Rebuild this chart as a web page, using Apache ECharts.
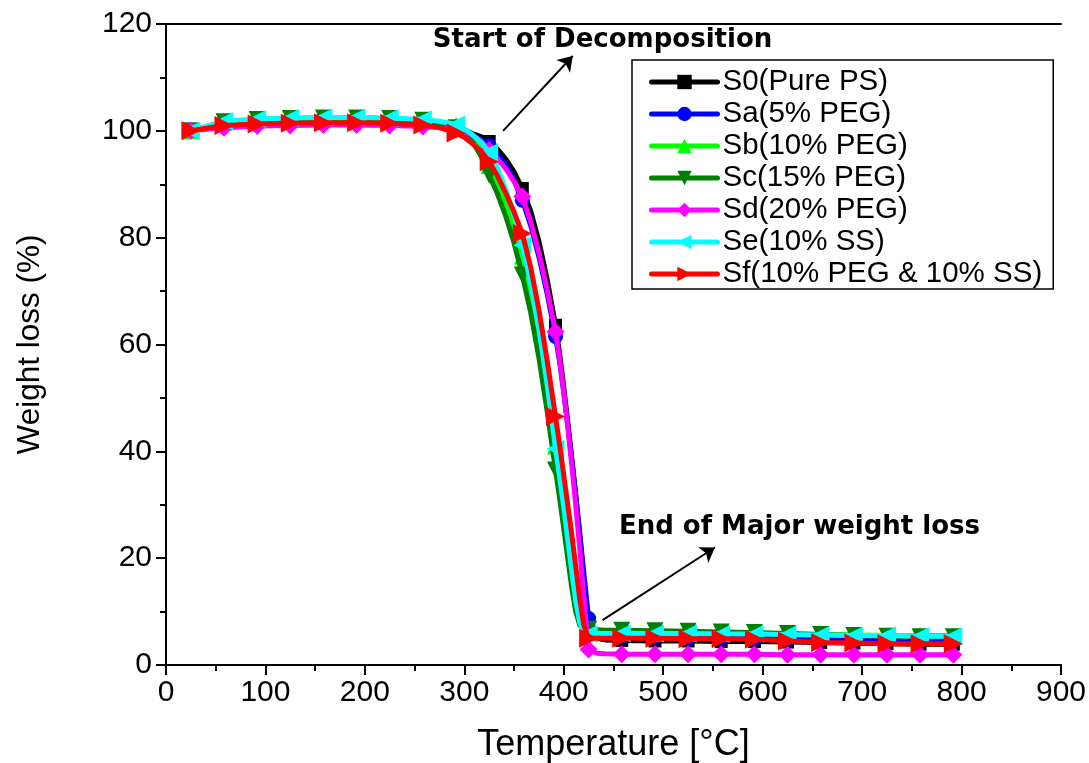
<!DOCTYPE html>
<html>
<head>
<meta charset="utf-8">
<script src="https://cdn.jsdelivr.net/npm/echarts@6/dist/echarts.min.js"></script>
<style>
  html, body { margin: 0; padding: 0; background: #ffffff; }
  #chart { width: 1089px; height: 763px; }
</style>
</head>
<body>
<div id="chart"></div>
<script>
// TGA curves: residual weight (%) against temperature (°C)
const temperature = [
  25, 58.3, 91.7, 125, 158.3, 191.7, 225, 258.3,
  275, 291.7, 300, 308, 316.7, 325, 333.3, 341.7, 350, 358.3,
  366.7, 375, 383.3, 391.7, 396, 400, 404, 408, 412, 416, 420,
  425, 433, 441.7,
  458.3, 491.7, 525, 558.3, 591.7, 625, 658.3, 691.7, 725, 758.3, 791.7];
// readings drawn as line only, without a symbol
const lineOnlyTemps = [275, 300, 308, 316.7, 333.3, 341.7, 350, 366.7, 375, 383.3,
  396, 400, 404, 408, 412, 416, 420, 433, 441.7];

const seriesNames = ['S0(Pure PS)', 'Sa(5% PEG)', 'Sb(10% PEG)', 'Sc(15% PEG)',
  'Sd(20% PEG)', 'Se(10% SS)', 'Sf(10% PEG & 10% SS)'];

const s0 = [
  100.0, 101.2, 101.6, 101.8, 101.9, 101.9, 101.8, 101.5,
  101.2, 100.7, 100.2, 99.5, 98.9, 98.0, 96.6, 94.7, 92.3, 89.2,
  85.0, 79.3, 72.2, 63.6, 58.0, 52.0, 45.5, 38.8, 31.8, 24.5, 16.5,
  7.0, 5.0, 4.7,
  4.6, 4.5, 4.5, 4.4, 4.4, 4.3, 4.2, 4.1, 4.0, 3.9, 3.9];
const sa = [
  100.0, 101.0, 101.4, 101.6, 101.7, 101.7, 101.6, 101.3,
  101.0, 100.4, 99.9, 99.2, 98.4, 97.2, 95.6, 93.6, 90.8, 87.0,
  82.3, 76.4, 69.5, 61.5, 56.5, 51.0, 45.0, 38.5, 31.8, 24.8, 17.5,
  8.7, 5.8, 5.4,
  5.3, 5.2, 5.1, 5.1, 5.0, 4.9, 4.8, 4.8, 4.7, 4.7, 4.7];
const sb = [
  100.0, 101.6, 102.0, 102.2, 102.3, 102.3, 102.2, 101.9,
  101.6, 101.0, 100.1, 98.8, 96.6, 93.5, 90.3, 86.5, 82.0, 76.5,
  70.0, 62.0, 52.5, 41.0, 35.5, 30.0, 24.0, 18.0, 12.5, 8.5, 6.8,
  6.2, 6.1, 6.1,
  6.1, 6.0, 6.0, 5.9, 5.9, 5.8, 5.7, 5.6, 5.5, 5.5, 5.5];
const sc = [
  100.0, 101.7, 102.1, 102.3, 102.4, 102.4, 102.3, 102.0,
  101.6, 100.6, 99.6, 98.0, 95.3, 91.7, 88.2, 84.0, 79.0, 73.0,
  66.0, 57.5, 47.5, 36.5, 31.0, 25.5, 20.0, 14.5, 10.0, 7.5, 6.9,
  6.7, 6.6, 6.5,
  6.5, 6.4, 6.3, 6.2, 6.1, 5.9, 5.7, 5.5, 5.4, 5.3, 5.3];
const sd = [
  100.0, 100.6, 100.9, 101.0, 101.1, 101.1, 101.0, 100.8,
  100.6, 100.2, 99.8, 99.2, 98.1, 96.4, 94.8, 92.9, 90.5, 87.7,
  83.0, 77.2, 70.3, 62.4, 57.0, 51.0, 44.5, 37.5, 30.0, 22.0, 13.0,
  2.9, 2.2, 2.1,
  2.0, 2.0, 2.0, 2.0, 2.0, 1.9, 1.9, 1.9, 1.9, 1.9, 1.9];
const se = [
  100.0, 101.8, 102.2, 102.4, 102.5, 102.5, 102.4, 102.1,
  101.8, 101.2, 100.4, 99.3, 97.9, 96.0, 93.0, 89.0, 84.3, 78.6,
  71.5, 63.0, 52.5, 40.5, 35.0, 29.5, 23.5, 17.5, 12.0, 8.0, 6.3,
  5.8, 5.9, 5.9,
  5.9, 5.9, 5.9, 5.8, 5.8, 5.7, 5.6, 5.5, 5.5, 5.4, 5.4];
const sf = [
  100.0, 101.0, 101.3, 101.4, 101.5, 101.5, 101.4, 101.1,
  100.6, 99.6, 98.8, 97.6, 96.2, 94.2, 91.6, 88.3, 84.8, 80.8,
  74.5, 66.5, 57.0, 46.5, 41.0, 35.5, 30.0, 24.5, 18.5, 12.5, 7.5,
  5.0, 5.0, 5.0,
  5.0, 5.0, 4.9, 4.9, 4.8, 4.5, 4.2, 4.1, 4.0, 4.0, 4.0];

const xTicks = [0, 100, 200, 300, 400, 500, 600, 700, 800, 900];
const yTicks = [0, 20, 40, 60, 80, 100, 120];

const weights = [s0, sa, sb, sc, sd, se, sf];
const colors = ['#000000', '#0000ff', '#00ff00', '#008000', '#ff00ff', '#00ffff', '#ff0000'];
const symbols = ['rect', 'circle', 'triangle', 'triangle', 'diamond', 'triangle', 'triangle'];
const rotations = [0, 0, 0, 180, 0, 90, -90];
const symbolSizes = [13, 15, 17, 17, 18, 18, 19];

const FONT = '"Liberation Sans", Arial, sans-serif';

function buildData(vals) {
  return temperature.map((t, i) =>
    lineOnlyTemps.includes(t) ? { value: [t, vals[i]], symbol: 'none' } : [t, vals[i]]);
}

const series = weights.map((vals, k) => ({
  name: seriesNames[k],
  type: 'line',
  data: buildData(vals),
  smooth: false,
  showAllSymbol: true,
  symbol: symbols[k],
  symbolSize: symbolSizes[k],
  symbolRotate: rotations[k],
  color: colors[k],
  itemStyle: { color: colors[k] },
  lineStyle: { color: colors[k], width: 5, join: 'round', cap: 'round' },
  emphasis: { disabled: true },
  z: 2 + k
}));

// annotation arrows and captions, placed in data coordinates
series[0].markLine = {
  silent: true,
  symbol: ['none', 'arrow'],
  symbolSize: 14,
  label: { show: false },
  lineStyle: { color: '#000000', width: 2, type: 'solid' },
  emphasis: { disabled: true },
  data: [
    [{ coord: [339, 100] }, { coord: [409, 114] }],
    [{ coord: [439, 8.4] }, { coord: [552, 22] }]
  ]
};
series[0].markPoint = {
  silent: true,
  symbol: 'circle',
  symbolSize: 0,
  label: {
    show: true, position: 'inside', formatter: p => p.name,
    color: '#000000', fontWeight: 'bold', fontSize: 26, fontFamily: '"DejaVu Sans", sans-serif'
  },
  data: [
    { name: 'Start of Decomposition', coord: [439, 117] },
    { name: 'End of Major weight loss', coord: [637, 25.8] }
  ]
};

const axisLineStyle = { color: '#000000', width: 2 };

const chart = echarts.init(document.getElementById('chart'), null, { renderer: 'canvas' });
chart.setOption({
  animation: false,
  backgroundColor: '#ffffff',
  grid: { left: 166, right: 28, top: 24, bottom: 98, outerBoundsMode: 'none', containLabel: false },
  legend: {
    orient: 'vertical',
    left: 632, top: 60,
    padding: [7, 11, 0, 17],
    itemGap: 2,
    itemWidth: 66,
    itemHeight: 18,
    borderColor: '#000000',
    borderWidth: 1.5,
    borderRadius: 0,
    backgroundColor: '#ffffff',
    selectedMode: false,
    symbolRotate: 'inherit',
    lineStyle: { width: 5 },
    textStyle: { fontSize: 29.5, fontFamily: FONT, color: '#000000', lineHeight: 30, padding: [0, 0, 0, 0] },
    data: seriesNames
  },
  xAxis: [{
    type: 'value',
    min: xTicks[0], max: xTicks[xTicks.length - 1], interval: 100,
    name: 'Temperature [°C]',
    nameLocation: 'middle',
    nameGap: 62,
    nameTextStyle: { fontSize: 36, fontFamily: FONT, color: '#000000' },
    axisLine: { show: true, onZero: false, lineStyle: axisLineStyle },
    axisTick: { show: true, inside: false, length: 10, lineStyle: axisLineStyle },
    minorTick: { show: true, splitNumber: 2, length: 6, lineStyle: axisLineStyle },
    axisLabel: { fontSize: 30, fontFamily: FONT, color: '#000000', margin: 13, hideOverlap: false },
    splitLine: { show: false },
    minorSplitLine: { show: false }
  }, {
    type: 'value', position: 'top',
    min: xTicks[0], max: xTicks[xTicks.length - 1],
    axisLine: { show: true, onZero: false, lineStyle: axisLineStyle },
    axisTick: { show: false }, axisLabel: { show: false }, splitLine: { show: false }
  }],
  yAxis: {
    type: 'value',
    min: yTicks[0], max: yTicks[yTicks.length - 1], interval: 20,
    name: 'Weight loss (%)',
    nameLocation: 'middle',
    nameGap: 120,
    nameTextStyle: { fontSize: 31.5, fontFamily: FONT, color: '#000000' },
    axisLine: { show: true, onZero: false, lineStyle: axisLineStyle },
    axisTick: { show: true, inside: false, length: 10, lineStyle: axisLineStyle },
    minorTick: { show: true, splitNumber: 2, length: 6, lineStyle: axisLineStyle },
    axisLabel: { fontSize: 30, fontFamily: FONT, color: '#000000', margin: 14, hideOverlap: false },
    splitLine: { show: false },
    minorSplitLine: { show: false }
  },
  series: series
});
</script>
</body>
</html>
